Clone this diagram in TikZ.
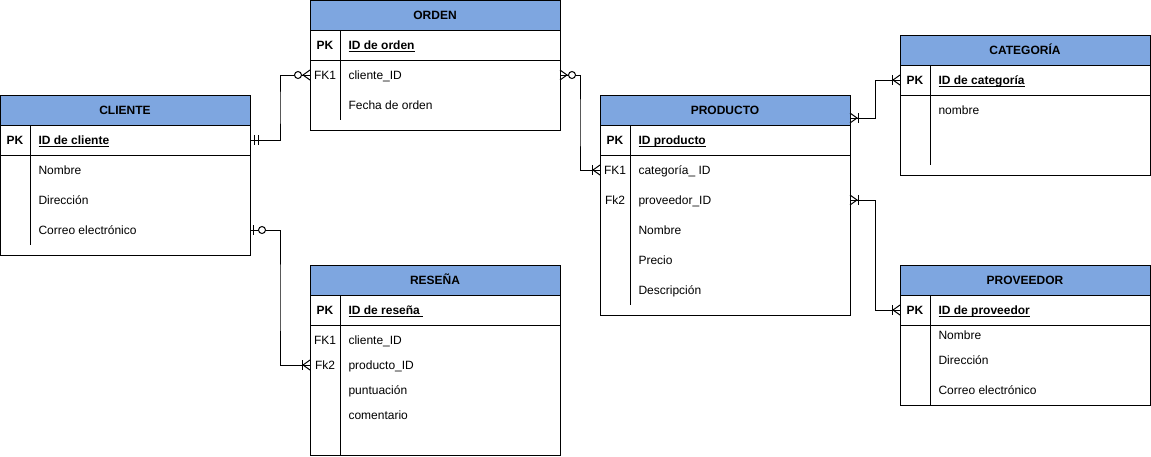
\documentclass[tikz,border=0pt]{standalone}
\usepackage{amsmath}
\usepackage{fontspec}
\setmainfont{Liberation Sans}
\usetikzlibrary{calc,positioning}
\definecolor{HeadBlue}{RGB}{126,166,224}
\newcommand{\pkfield}[1]{$\underline{\smash[b]{\textbf{#1}}}$}

\tikzset{
	pics/onemany/.style={code={\draw (0,-5) -- (7,0) -- (0,5); \draw (8,-5) -- (8,5);}},
	pics/zeromany/.style={code={\draw (0,-5) -- (7,0) -- (0,5); \draw[fill=white] (12,0) circle (3.5pt);}},
	pics/oneone/.style={code={\draw (4,-5) -- (4,5); \draw (8,-5) -- (8,5);}},
	pics/zeroone/.style={code={\draw (3.5,-5) -- (3.5,5); \draw[fill=white] (12,0) circle (3.5pt);}}
}

\begin{document}
\begin{tikzpicture}[x=1pt, y=-1pt, line width=1pt,
		every node/.style={font=\fontsize{12}{14}\selectfont},
		hdr/.style={draw, fill=HeadBlue, minimum width=250pt, minimum height=30pt, inner sep=0pt,
			text height=8.6pt, text depth=0pt, font=\fontsize{12}{14}\selectfont\bfseries},
		fld/.style={anchor=west, inner sep=0pt, text height=11pt, text depth=2.4pt},
		keycell/.style={inner sep=0pt, text height=11pt, text depth=2.4pt},
		pkcell/.style={keycell, font=\fontsize{12}{14}\selectfont\bfseries},
		erlink/.style={to path={-| ($(\tikztostart)!.5!(\tikztotarget)$) |- (\tikztotarget)}}]
	\useasboundingbox (0,0) rectangle (1151,456);
	% CLIENTE
	\node[hdr] (cli) at (125,110) {CLIENTE};
	\draw (0,125) rectangle (250,255);
	\draw (0,155) -- (250,155);
	\draw (30,125) -- (30,245);
	\node[pkcell] (clik) at (15,140) {PK};
	\node[fld] (clipk) at (38,140) {\pkfield{ID de cliente}};
	\foreach \f [count=\i] in {Nombre,Dirección,Correo electrónico}
		\node[fld] (cli\i) at (38,140+30*\i) {\f};
	\coordinate (clia) at (250,140);
	\coordinate (clib) at (250,230);
	% ORDEN
	\node[hdr] (ord) at (435,15) {ORDEN};
	\draw (310,30) rectangle (560,130);
	\draw (310,60) -- (560,60);
	\draw (340,30) -- (340,120);
	\node[pkcell] (ordk) at (325,45) {PK};
	\node[fld] (ordpk) at (348,45) {\pkfield{ID de orden}};
	\node[keycell] (ordk1) at (325,75) {FK1};
	\node[fld] (ord1) at (348,75) {cliente\_ID};
	\node[fld] (ord2) at (348,105) {Fecha de orden};
	\coordinate (ordl) at (310,75);
	\coordinate (ordr) at (560,75);
	% RESEÑA
	\node[hdr] (res) at (435,280) {RESEÑA};
	\draw (310,295) rectangle (560,455);
	\draw (310,325) -- (560,325);
	\draw (340,295) -- (340,455);
	\node[pkcell] (resk) at (325,310) {PK};
	\node[fld] (respk) at (348,310) {\pkfield{ID de reseña\ }};
	\node[keycell] (resk1) at (325,340) {FK1};
	\node[keycell] (resk2) at (325,365) {Fk2};
	\foreach \y/\f [count=\i] in {340/cliente\_ID,365/producto\_ID,390/puntuación,415/comentario}
		\node[fld] (res\i) at (348,\y) {\f};
	\coordinate (resl) at (310,365);
	% PRODUCTO
	\node[hdr] (pro) at (725,110) {PRODUCTO};
	\draw (600,125) rectangle (850,315);
	\draw (600,155) -- (850,155);
	\draw (630,125) -- (630,305);
	\node[pkcell] (prok) at (615,140) {PK};
	\node[fld] (propk) at (638,140) {\pkfield{ID producto}};
	\node[keycell] (prok1) at (615,170) {FK1};
	\node[keycell] (prok2) at (615,200) {Fk2};
	\foreach \f [count=\i] in {categoría\_ ID,proveedor\_ID,Nombre,Precio,Descripción}
		\node[fld] (pro\i) at (638,140+30*\i) {\f};
	\coordinate (prol) at (600,170);
	\coordinate (proa) at (850,118);
	\coordinate (prob) at (850,200);
	% CATEGORÍA
	\node[hdr] (cat) at (1025,50) {CATEGORÍA};
	\draw (900,65) rectangle (1150,175);
	\draw (900,95) -- (1150,95);
	\draw (930,65) -- (930,165);
	\node[pkcell] (catk) at (915,80) {PK};
	\node[fld] (catpk) at (938,80) {\pkfield{ID de categoría}};
	\node[fld] (cat1) at (938,110) {nombre};
	\coordinate (catl) at (900,80);
	% PROVEEDOR
	\node[hdr] (prv) at (1025,280) {PROVEEDOR};
	\draw (900,295) rectangle (1150,405);
	\draw (900,325) -- (1150,325);
	\draw (930,295) -- (930,405);
	\node[pkcell] (prvk) at (915,310) {PK};
	\node[fld] (prvpk) at (938,310) {\pkfield{ID de proveedor}};
	\foreach \y/\f [count=\i] in {335/Nombre,360/Dirección,390/Correo electrónico}
		\node[fld] (prv\i) at (938,\y) {\f};
	\coordinate (prvl) at (900,310);
	% relaciones
	\draw (clia) to[erlink] (ordl);
	\draw (clib) to[erlink] (resl);
	\draw (ordr) to[erlink] (prol);
	\draw (proa) to[erlink] (catl);
	\draw (prob) to[erlink] (prvl);
	\path (clia) pic {oneone} (ordl) pic[xscale=-1] {zeromany};
	\path (clib) pic {zeroone} (resl) pic[xscale=-1] {onemany};
	\path (ordr) pic {zeromany} (prol) pic[xscale=-1] {onemany};
	\path (proa) pic {onemany} (catl) pic[xscale=-1] {onemany};
	\path (prob) pic {onemany} (prvl) pic[xscale=-1] {onemany};
\end{tikzpicture}
\end{document}
